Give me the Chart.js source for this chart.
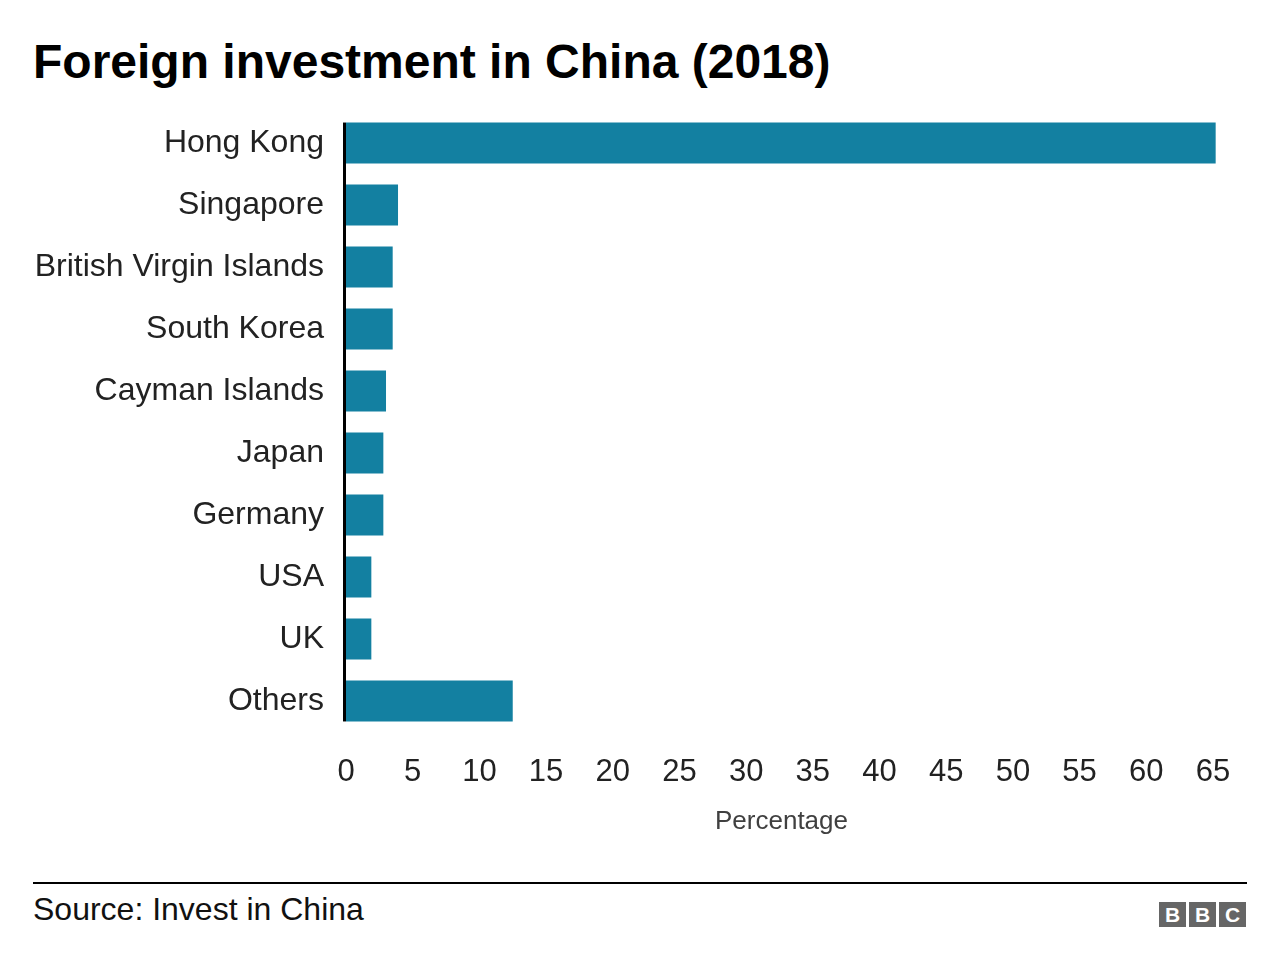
<!DOCTYPE html>
<html>
<head>
<meta charset="utf-8">
<script src="https://cdn.jsdelivr.net/npm/chart.js@4.4.1/dist/chart.umd.min.js"></script>
<style>
  html, body { margin: 0; padding: 0; background: #fff; }
  body { width: 1280px; height: 970px; position: relative; overflow: hidden; font-family: "Liberation Sans", Arial, sans-serif; }
  #title { position: absolute; left: 33px; top: 33px; font-size: 48px; font-weight: bold; color: #000; line-height: 58px; white-space: nowrap; }
  #wrap { position: absolute; left: 0; top: 100px; width: 1280px; height: 760px; }
  #rule { position: absolute; left: 33px; top: 882px; width: 1214px; height: 2px; background: #000; }
  #source { position: absolute; left: 33px; top: 890px; font-size: 32px; line-height: 38px; color: #111; white-space: nowrap; }
  #bbc { position: absolute; left: 1159px; top: 902px; height: 25px; display: flex; gap: 3px; }
  #bbc span { display: block; width: 27px; height: 25px; background: #666; color: #fff; font-weight: bold; font-size: 21px; line-height: 25px; text-align: center; }
</style>
</head>
<body>
<div id="title">Foreign investment in China (2018)</div>
<div id="wrap"><canvas id="chart"></canvas></div>
<div id="rule"></div>
<div id="source">Source: Invest in China</div>
<div id="bbc"><span>B</span><span>B</span><span>C</span></div>

<script>
// values (percent of total)
const countries = ['Hong Kong', 'Singapore', 'British Virgin Islands', 'South Korea',
  'Cayman Islands', 'Japan', 'Germany', 'USA', 'UK', 'Others'];
const shares = [65.2, 3.9, 3.5, 3.5, 3.0, 2.8, 2.8, 1.9, 1.9, 12.5];
const xTicks = [0, 5, 10, 15, 20, 25, 30, 35, 40, 45, 50, 55, 60, 65];

// black baseline only as tall as the bars, like the original
const baseline = {
  id: 'baseline',
  afterDatasetsDraw(chart) {
    const meta = chart.getDatasetMeta(0);
    const first = meta.data[0];
    const last = meta.data[meta.data.length - 1];
    const x0 = chart.scales.x.getPixelForValue(0);
    const top = first.y - first.height / 2;
    const bottom = last.y + last.height / 2;
    const ctx = chart.ctx;
    ctx.save();
    ctx.fillStyle = '#000';
    ctx.fillRect(x0 - 3, top, 3, bottom - top);
    ctx.restore();
  }
};

new Chart(document.getElementById('chart'), {
  type: 'bar',
  data: {
    labels: countries,
    datasets: [{
      data: shares,
      backgroundColor: '#1380A1',
      barPercentage: 0.66,
      categoryPercentage: 1
    }]
  },
  options: {
    indexAxis: 'y',
    responsive: true,
    maintainAspectRatio: false,
    animation: false,
    layout: { padding: { top: 12, right: 63, bottom: 0, left: 0 } },
    plugins: { legend: { display: false }, tooltip: { enabled: false } },
    scales: {
      x: {
        min: 0,
        max: 65.3,
        grid: { display: false, drawTicks: false },
        border: { display: false },
        afterBuildTicks(scale) { scale.ticks = xTicks.map(v => ({ value: v })); },
        afterFit(scale) { scale.height = 128; },
        ticks: {
          padding: 22,
          color: '#222',
          font: { family: '"Liberation Sans", Arial, sans-serif', size: 31 }
        },
        title: {
          display: true,
          text: 'Percentage',
          color: '#404040',
          padding: { top: 0, bottom: 23 },
          font: { family: '"Liberation Sans", Arial, sans-serif', size: 26 }
        }
      },
      y: {
        grid: { display: false, drawTicks: false },
        border: { display: false },
        afterFit(scale) {
          scale.width = 346;
          scale.paddingTop = 0;
          scale.paddingBottom = 0;
        },
        ticks: {
          padding: 22,
          color: '#222',
          font: { family: '"Liberation Sans", Arial, sans-serif', size: 32 }
        }
      }
    }
  },
  plugins: [baseline]
});
</script>
</body>
</html>
